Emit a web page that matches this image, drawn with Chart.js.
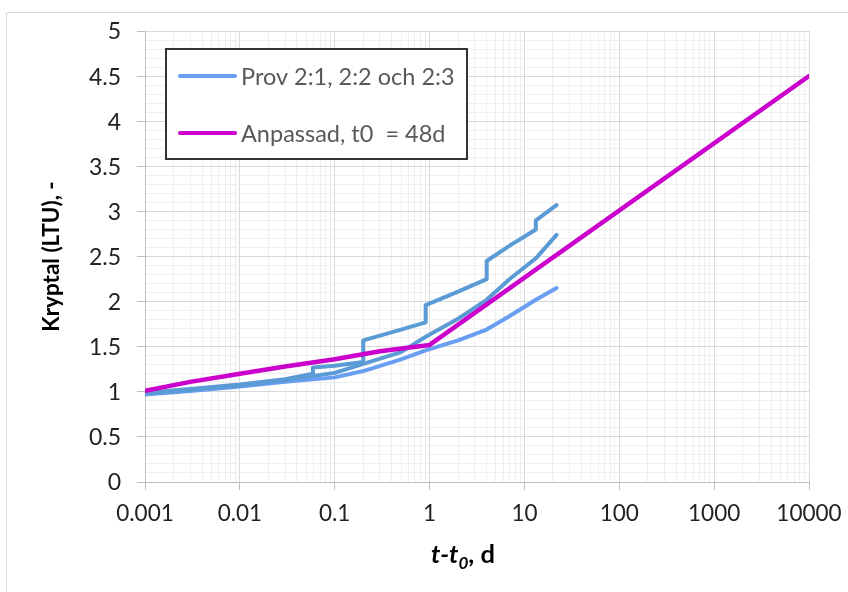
<!DOCTYPE html>
<html>
<head>
<meta charset="utf-8">
<script src="https://cdn.jsdelivr.net/npm/chart.js@4.4.0/dist/chart.umd.min.js"></script>
<style>
  html, body { margin: 0; padding: 0; background: #fff; }
  #wrap { position: relative; width: 848px; height: 592px; }
</style>
</head>
<body>
<div id="wrap"><canvas id="kryptal" width="848" height="592"></canvas></div>
<script>
// Prov 2:1 (upper, with steps)
var provA_t = [0.001, 0.003, 0.01, 0.03, 0.059, 0.059, 0.1, 0.2, 0.2, 0.5, 0.91, 0.91, 2, 4, 4, 7, 13.2, 13.2, 21.8];
var provA_y = [0.99, 1.03, 1.08, 1.14, 1.20, 1.27, 1.29, 1.33, 1.57, 1.69, 1.77, 1.96, 2.11, 2.25, 2.45, 2.62, 2.80, 2.90, 3.07];

// Prov 2:2 (middle)
var provB_t = [0.001, 0.003, 0.01, 0.03, 0.1, 0.2, 0.5, 0.91, 2, 4, 7, 13.2, 21.8];
var provB_y = [0.98, 1.02, 1.07, 1.13, 1.21, 1.31, 1.44, 1.61, 1.81, 2.02, 2.25, 2.48, 2.74];

// Prov 2:3 (lower, lighter)
var provC_t = [0.001, 0.003, 0.01, 0.03, 0.1, 0.2, 0.5, 0.91, 2, 4, 7, 13.2, 21.8];
var provC_y = [0.97, 1.01, 1.06, 1.11, 1.16, 1.23, 1.36, 1.46, 1.57, 1.69, 1.84, 2.02, 2.15];

// Anpassad, t0 = 48d
var fit_t = [0.001, 0.003, 0.01, 0.03, 0.1, 0.3, 1, 10000];
var fit_y = [1.01, 1.11, 1.20, 1.28, 1.36, 1.45, 1.52, 4.50];

var xDecades = [0.001, 0.01, 0.1, 1, 10, 100, 1000, 10000];
var xTickLabels = ['0.001', '0.01', '0.1', '1', '10', '100', '1000', '10000'];
var xMinorSteps = [1, 2, 3, 4, 5, 6, 7, 8, 9];
var yTickValues = [0, 0.5, 1, 1.5, 2, 2.5, 3, 3.5, 4, 4.5, 5];
var yTickLabels = ['0', '0.5', '1', '1.5', '2', '2.5', '3', '3.5', '4', '4.5', '5'];

var legendLabels = ['Prov 2:1, 2:2 och 2:3', 'Anpassad, t0  = 48d'];
var yTitle = 'Kryptal (LTU), -';

var blueDark = '#5B9BD5';
var blueLight = '#6A9EF2';
var magenta = '#CC00CC';
var fontName = 'Lato';

// pick a font size so a text gets roughly the width it has in the original (Calibri) chart
var measureCtx = document.createElement('canvas').getContext('2d');
function fitSize(text, weight, width) {
  measureCtx.font = weight + ' 100px ' + fontName;
  return Math.round(100 * width / measureCtx.measureText(text).width * 2) / 2;
}
var xTickSize = fitSize('0.001', 'normal', 58);
var yTickSize = fitSize('0.5', 'normal', 32);
var legendSize = fitSize(legendLabels[0], 'normal', 212);
var yTitleSize = fitSize(yTitle, 'bold', 151);
var xTitleSize = fitSize('t-t0, d', 'bold', 70);

function toPoints(t, y) {
  return t.map(function (v, i) { return { x: v, y: y[i] }; });
}

function isDecade(v) {
  var l = Math.log10(v);
  return Math.abs(l - Math.round(l)) < 1e-9;
}

function isHalf(v) {
  return Math.abs(v * 2 - Math.round(v * 2)) < 1e-6;
}

// x ticks: 1..9 in every decade, plus the last one
var xTickValues = [];
for (var d = 0; d < xDecades.length - 1; d++) {
  for (var m = 0; m < xMinorSteps.length; m++) {
    xTickValues.push(Number((xDecades[d] * xMinorSteps[m]).toPrecision(6)));
  }
}
xTickValues.push(xDecades[xDecades.length - 1]);

// draws the frame, y tick labels, the boxed legend and both axis titles
var decorPlugin = {
  id: 'decor',
  beforeDraw: function (chart) {
    var ctx = chart.ctx;
    ctx.save();
    ctx.strokeStyle = '#D9D9D9';
    ctx.lineWidth = 1;
    ctx.beginPath();
    ctx.moveTo(6.5, 592);
    ctx.lineTo(6.5, 12.5);
    ctx.lineTo(848, 12.5);
    ctx.stroke();
    ctx.restore();
  },
  afterDraw: function (chart) {
    var ctx = chart.ctx;
    var a = chart.chartArea;
    var ys = chart.scales.y;
    ctx.save();

    // y tick labels, right aligned left of the tick marks
    ctx.font = yTickSize + 'px ' + fontName;
    ctx.fillStyle = '#222';
    ctx.textAlign = 'right';
    ctx.textBaseline = 'middle';
    yTickValues.forEach(function (v, i) {
      ctx.fillText(yTickLabels[i], a.left - 24, ys.getPixelForValue(v) + 1);
    });

    // legend box
    ctx.fillStyle = '#fff';
    ctx.fillRect(165, 48, 303, 112);
    ctx.strokeStyle = '#333';
    ctx.lineWidth = 2;
    ctx.strokeRect(166, 49, 301, 110);

    var rows = [{ y: 76, color: blueLight }, { y: 133, color: magenta }];
    ctx.lineCap = 'round';
    ctx.lineWidth = 4;
    ctx.font = legendSize + 'px ' + fontName;
    ctx.textBaseline = 'middle';
    ctx.textAlign = 'left';
    rows.forEach(function (r, i) {
      ctx.strokeStyle = r.color;
      ctx.beginPath();
      ctx.moveTo(180, r.y);
      ctx.lineTo(235, r.y);
      ctx.stroke();
      ctx.fillStyle = '#595959';
      ctx.fillText(legendLabels[i], 241, r.y + 1);
    });

    // y title
    ctx.save();
    ctx.translate(52, (a.top + a.bottom) / 2);
    ctx.rotate(-Math.PI / 2);
    ctx.font = 'bold ' + yTitleSize + 'px ' + fontName;
    ctx.fillStyle = '#000';
    ctx.textAlign = 'center';
    ctx.textBaseline = 'middle';
    ctx.fillText(yTitle, 0, 0);
    ctx.restore();

    // x title: t-t0, d with italic t and subscript 0
    var parts = [
      { s: 't-t', f: 'italic bold ' + xTitleSize + 'px ', dy: 0 },
      { s: '0', f: 'italic bold ' + Math.round(xTitleSize * 0.65) + 'px ', dy: 6 },
      { s: ', d', f: 'bold ' + xTitleSize + 'px ', dy: 0 }
    ];
    var total = 0;
    parts.forEach(function (p) { ctx.font = p.f + fontName; p.w = ctx.measureText(p.s).width; total += p.w; });
    var x = 463 - total / 2;
    ctx.fillStyle = '#000';
    ctx.textAlign = 'left';
    ctx.textBaseline = 'alphabetic';
    parts.forEach(function (p) {
      ctx.font = p.f + fontName;
      ctx.fillText(p.s, x, 563 + p.dy);
      x += p.w;
    });
    ctx.restore();
  }
};

var ctx = document.getElementById('kryptal').getContext('2d');
var chart = new Chart(ctx, {
  type: 'line',
  data: {
    datasets: [
      { label: 'Prov 2:1', data: toPoints(provA_t, provA_y), borderColor: blueDark, borderWidth: 4, order: 1 },
      { label: 'Prov 2:2', data: toPoints(provB_t, provB_y), borderColor: blueDark, borderWidth: 4, order: 1 },
      { label: 'Prov 2:3', data: toPoints(provC_t, provC_y), borderColor: blueLight, borderWidth: 4, order: 1 },
      { label: legendLabels[1], data: toPoints(fit_t, fit_y), borderColor: magenta, borderWidth: 4.5, order: 0 }
    ]
  },
  options: {
    responsive: false,
    animation: false,
    layout: { padding: { top: 31, right: 39, left: 0, bottom: 0 } },
    elements: {
      point: { radius: 0 },
      line: { tension: 0, fill: false, borderCapStyle: 'round', borderJoinStyle: 'round' }
    },
    plugins: {
      legend: { display: false },
      tooltip: { enabled: false }
    },
    scales: {
      x: {
        type: 'logarithmic',
        min: 0.001,
        max: 10000,
        afterBuildTicks: function (scale) {
          scale.ticks = xTickValues.map(function (v) { return { value: v, major: isDecade(v) }; });
        },
        afterFit: function (scale) {
          scale.height = 110;
          scale.paddingLeft = 0;
          scale.paddingRight = 0;
        },
        border: { color: '#BFBFBF', width: 1 },
        grid: {
          color: function (c) { return c.tick && isDecade(c.tick.value) ? '#D9D9D9' : '#EFEFEF'; },
          tickColor: function (c) { return c.tick && isDecade(c.tick.value) ? '#BFBFBF' : 'rgba(0,0,0,0)'; },
          tickLength: 8,
          lineWidth: 1
        },
        ticks: {
          autoSkip: false,
          maxRotation: 0,
          padding: 10,
          color: '#222',
          font: { family: fontName, size: xTickSize },
          callback: function (v) {
            var i = xDecades.findIndex(function (d) { return Math.abs(d - v) / d < 1e-9; });
            return i >= 0 ? xTickLabels[i] : '';
          }
        }
      },
      y: {
        type: 'linear',
        min: 0,
        max: 5,
        afterFit: function (scale) {
          scale.width = 145;
          scale.paddingTop = 0;
          scale.paddingBottom = 0;
        },
        border: { color: '#BFBFBF', width: 1 },
        grid: {
          color: function (c) { return c.tick && isHalf(c.tick.value) ? '#D9D9D9' : '#EFEFEF'; },
          tickColor: function (c) { return c.tick && isHalf(c.tick.value) ? '#BFBFBF' : 'rgba(0,0,0,0)'; },
          tickLength: 8,
          lineWidth: 1
        },
        ticks: {
          stepSize: 0.1,
          autoSkip: false,
          display: false
        }
      }
    }
  },
  plugins: [decorPlugin]
});
</script>
</body>
</html>
